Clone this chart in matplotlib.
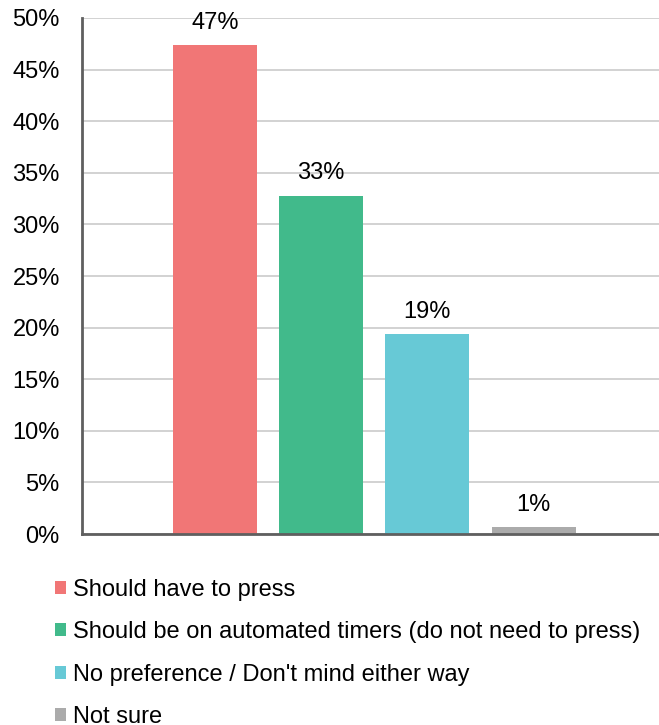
import matplotlib.pyplot as plt
from matplotlib.patches import Patch
from matplotlib.ticker import FuncFormatter

plt.rcParams['font.family'] = ['Liberation Sans', 'DejaVu Sans']

categories = [
    "Should have to press",
    "Should be on automated timers (do not need to press)",
    "No preference / Don't mind either way",
    "Not sure",
]
shares = [47.4, 32.8, 19.4, 0.7]
colors = ["#f17676", "#41ba8b", "#67c9d6", "#ababab"]

fig = plt.figure(figsize=(6.59, 7.25), dpi=100)
ax = fig.add_axes([0.1244, 0.2634, 0.8756, 0.7118])

pos = range(len(shares))
bars = ax.bar(pos, shares, width=0.79, color=colors, zorder=3)

for b, v in zip(bars, shares):
    ax.annotate(f"{v:.0f}%", (b.get_x() + b.get_width() / 2, v),
                xytext=(0, 8), textcoords="offset points",
                ha="center", va="bottom", fontsize=17, color="#000000")

ax.set_xlim(-1.25, 4.18)
ax.set_ylim(0, 50)
ax.set_yticks(range(0, 51, 5))
ax.yaxis.set_major_formatter(FuncFormatter(lambda v, p: f"{v:.0f}%"))
ax.tick_params(axis="y", length=0, pad=16, labelsize=17)
ax.set_xticks([])
ax.grid(axis="y", color="#cfcfcf", linewidth=1.3, zorder=0)

for s in ["top", "right"]:
    ax.spines[s].set_visible(False)
for s in ["left", "bottom"]:
    ax.spines[s].set_color("#5f5f5f")
    ax.spines[s].set_linewidth(2)
    ax.spines[s].set_zorder(4)

handles = [Patch(facecolor=c, edgecolor="none") for c in colors]
fig.legend(handles, categories, loc="upper left", bbox_to_anchor=(0.083, 0.2015),
           frameon=False, fontsize=17, handlelength=0.47, handleheight=0.47,
           handletextpad=0.3, labelspacing=0.865, borderaxespad=0, borderpad=0)

fig.savefig("out.png", dpi=100)
